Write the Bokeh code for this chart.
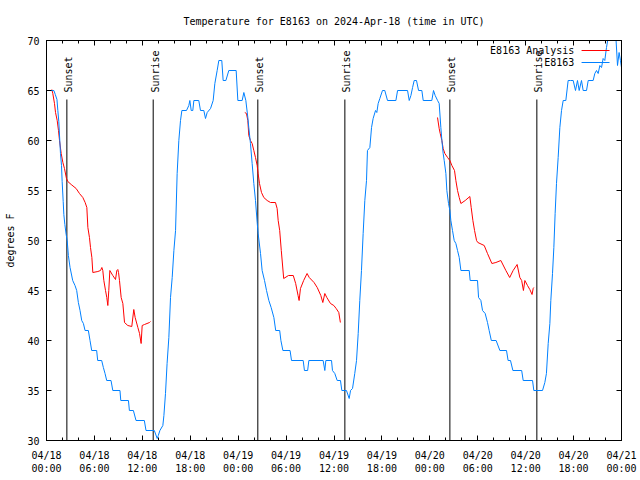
import numpy as np
from bokeh.plotting import figure
from bokeh.models import FixedTicker, Label, Arrow, Range1d, LinearAxis, CustomLabelingPolicy
from bokeh.core.properties import value
from bokeh.embed import file_html
from bokeh.resources import INLINE

FONT = "DejaVu Sans Mono"

# hours since 2024-04-18 00:00 UTC
obs_hours = [0, 0.92, 1.1, 1.31, 1.42, 1.54, 1.67, 1.75, 1.88, 1.96, 2.09, 2.17, 2.3, 2.46, 2.59, 2.74, 2.95,
             3.28, 3.57, 3.78, 3.99, 4.2, 4.41, 4.62, 4.83, 5.24, 5.45, 5.66, 6.28, 6.41, 6.91, 7.12, 7.33,
             7.54, 8.08, 8.3, 9.2, 9.3, 10.26, 10.38, 10.88, 11.21, 12.25, 12.46, 13.5, 13.86, 14.0, 14.2,
             14.57, 14.7, 14.9, 15.1, 15.32, 15.53, 15.74, 15.95, 16.16, 16.36, 16.57, 16.78, 16.95, 17.53,
             17.82, 17.95, 18.12, 18.32, 18.45, 19.07, 19.28, 19.7, 19.91, 20.12, 20.54, 20.87, 21.08, 21.37,
             21.58, 21.95, 22.12, 22.46, 22.83, 23.75, 23.96, 24.5, 24.71, 24.96, 25.21, 25.33, 25.54, 25.75,
             25.96, 26.17, 26.38, 26.5, 26.8, 27.0, 27.3, 27.55, 27.84, 28.13, 28.47, 28.7, 29.2, 29.35,
             29.6, 30.5, 30.68, 32.14, 32.3, 32.7, 32.85, 34.64, 34.85, 34.98, 35.69, 35.81, 36.1, 36.4,
             36.81, 36.98, 37.56, 37.9, 38.07, 38.32, 38.6, 38.82, 39.03, 39.23, 39.44, 39.65, 39.86, 40.07,
             40.19, 40.49, 40.7, 40.9, 41.2, 41.36, 41.53, 41.74, 42.07, 42.36, 42.7, 43.75, 43.96, 45.21,
             45.42, 45.63, 45.84, 46.04, 46.33, 46.59, 47.0, 47.17, 48.25, 48.46, 48.67, 48.97, 49.17, 49.38,
             49.51, 49.67, 49.8, 50.01, 50.13, 50.34, 50.51, 50.63, 50.84, 51.05, 51.26, 51.47, 51.68, 51.89,
             52.93, 53.05, 53.97, 54.1, 54.39, 54.6, 54.93, 55.22, 55.43, 55.7, 56.3, 56.77, 57.6, 57.8, 58.1,
             58.4, 59.5, 59.69, 60.86, 61.02, 62.11, 62.4, 62.6, 62.82, 63.03, 63.15, 63.36, 63.53, 63.69,
             63.86, 64.07, 64.28, 64.49, 64.7, 65.03, 65.32, 65.61, 65.95, 66.24, 66.49, 66.7, 66.99, 67.2,
             67.62, 67.83, 68.45, 68.66, 68.87, 69.08, 69.29, 69.5, 69.7, 69.91, 70.12, 70.33, 70.6, 71.0,
             71.3, 71.5, 71.7, 71.87, 72.0]
obs_temp = [65, 65, 64.6, 64.1, 63, 61.9, 59.9, 58.7, 57.5, 55.9, 53.9, 52.6, 51.6, 50.6, 50, 48.5, 47.3,
            46, 45.5, 45, 43.8, 43, 42, 41.7, 41, 41, 40, 39, 39, 38, 38, 37.3, 36.7,
            36, 36, 35, 35, 34, 34, 33, 33, 32, 32, 31, 31, 30.2, 30.5, 31,
            31.5, 32.5, 34.7, 37.7, 40.3, 44.3, 46.3, 49, 51, 56.7, 60, 62, 63, 63,
            63.5, 64, 63, 63, 64, 64, 63, 63, 62.2, 62.8, 63.2, 64, 65.7, 67,
            68, 68, 66, 66, 67, 67, 64, 64, 64.8, 64, 62.3, 61.3, 59.7, 57.7,
            55.7, 54, 51.8, 50.7, 48.7, 47, 46, 45, 44, 43.3, 42.3, 41, 41, 40,
            39, 39, 38, 38, 37, 37, 38, 38, 37, 38, 38, 37, 36.7, 36,
            36, 35, 35, 34.2, 35, 35.2, 36.7, 38, 40.7, 44, 47, 50.7, 54, 56,
            59, 59.3, 61.3, 62.2, 63, 62.8, 63.7, 64.2, 65, 65, 64, 64, 65, 65,
            64, 64.5, 65.3, 66, 66, 65, 65, 64, 64, 65, 64.5, 64, 63.7, 61.3,
            60, 58.7, 58, 56.7, 55, 53.7, 53, 52, 51, 50, 49.7, 49, 48.3, 47,
            47, 46, 46, 44.3, 44, 43, 42.7, 41.8, 41, 40, 40, 39, 39, 38, 38,
            37, 37, 36, 36, 35, 35, 35.8, 36.7, 39.7, 41.7, 44, 46.7, 49.3, 52.7,
            55.7, 58.3, 61.3, 63, 64, 64, 66, 66, 66, 65, 66, 65, 66, 65,
            65, 66, 66, 66.7, 67, 66.7, 67.5, 67.3, 68.2, 68, 69.3, 70.3, 71, 70.5,
            70.3, 67.5, 68.8, 68, 67.3]

ana1_hours = [0.67, 0.79, 1.0, 1.13, 1.34, 1.5, 1.63, 1.84, 2.05, 2.25, 2.5, 2.67, 3.09, 3.71, 4.13, 4.55,
              4.84, 5.05, 5.18, 5.38, 5.51, 5.68, 5.8, 6.43, 6.76, 6.93, 7.05, 7.18, 7.39, 7.55, 7.68,
              7.8, 7.93, 8.3, 8.64, 8.81, 8.93, 9.02, 9.14, 9.35, 9.56, 9.77, 10.18, 10.68, 10.93, 11.1,
              11.44, 11.65, 11.85, 11.98, 12.27, 12.9, 13.02]
ana1_temp = [65.1, 64.7, 63.7, 62.8, 62, 61, 60, 58.7, 57.8, 57.2, 56.2, 55.9, 55.6, 55.2, 54.7, 54.3,
             53.8, 53.3, 51.3, 50.3, 49.3, 48.3, 46.8, 46.9, 47, 47.3, 47, 46, 45, 44.3, 43.5,
             45, 47, 46.5, 46.1, 47, 47.1, 46.8, 46, 44.3, 43.7, 41.8, 41.5, 41.4, 43.1, 42.3,
             41.3, 40.7, 39.7, 41.5, 41.6, 41.8, 41.9]

ana2_hours = [24.83, 25.04, 25.21, 25.33, 25.54, 25.75, 25.96, 26.17, 26.38, 26.5, 26.67, 26.92, 27.21,
              27.63, 28.05, 28.67, 28.88, 29.01, 29.2, 29.4, 29.7, 30.3, 30.9, 31.2, 31.5, 31.63, 31.8,
              32.2, 32.63, 32.9, 33.5, 33.9, 34.35, 34.6, 34.85, 35.1, 35.56, 35.98, 36.27, 36.6, 36.8]
ana2_temp = [62.8, 62.7, 62, 60.5, 60, 59.7, 59, 58.3, 57.5, 56.7, 55.7, 54.8, 54.3,
             54, 53.8, 53.8, 53.2, 52, 51, 49, 46.2, 46.5, 46.5, 45.7, 44.5, 44, 45.2,
             46, 46.7, 46.3, 45.8, 45.3, 44.5, 43.8, 44.7, 44.3, 43.7, 43.5, 43.2, 42.8, 41.8]

ana3_hours = [48.96, 49.17, 49.3, 49.51, 49.67, 49.88, 50.22, 50.51, 50.76, 51.09, 51.26, 51.47, 51.68,
              51.89, 52.43, 53.01, 53.18, 53.39, 53.6, 53.85, 54.01, 54.81, 55.22, 55.77, 56.27, 56.89,
              57.52, 58.0, 58.43, 58.93, 59.27, 59.5, 59.72, 59.9, 60.23, 60.52, 60.8, 60.94, 61.02]
ana3_temp = [62.3, 61.2, 60.7, 60, 59.2, 58.7, 58.3, 58, 57.5, 57, 56, 55, 54.3,
             53.7, 54, 54.4, 53.3, 52, 51, 50, 49.8, 49.5, 48.7, 47.7, 47.8, 48,
             47, 46.3, 47, 47.6, 46.3, 46, 45, 46, 45.5, 45.1, 44.6, 45.2, 45.3]

event_hours = [2.55, 13.36, 26.46, 37.36, 50.51, 61.4]
event_names = ["Sunset", "Sunrise", "Sunset", "Sunrise", "Sunset", "Sunrise"]

x_ticks = [0, 6, 12, 18, 24, 30, 36, 42, 48, 54, 60, 66, 72]
x_minor = list(range(0, 73, 2))
x_tick_labels = ["04/18\n00:00", "04/18\n06:00", "04/18\n12:00", "04/18\n18:00",
                 "04/19\n00:00", "04/19\n06:00", "04/19\n12:00", "04/19\n18:00",
                 "04/20\n00:00", "04/20\n06:00", "04/20\n12:00", "04/20\n18:00", "04/21\n00:00"]
y_ticks = [30, 35, 40, 45, 50, 55, 60, 65, 70]

RED = "#ff0000"
BLUE = "#0080ff"

p = figure(width=640, height=480, output_backend="svg", toolbar_location=None,
           x_range=Range1d(0, 72), y_range=Range1d(30, 70),
           min_border_left=46, min_border_right=19, min_border_top=40, min_border_bottom=40,
           title="Temperature for E8163 on 2024-Apr-18 (time in UTC)")
p.title.align = "center"
p.title.text_font = FONT
p.title.text_font_size = "10px"
p.title.text_font_style = "normal"
p.title.text_color = "black"
p.title.standoff = 20

p.xgrid.visible = False
p.ygrid.visible = False
p.outline_line_color = "black"
p.outline_line_width = 1

no_labels = CustomLabelingPolicy(code="""
const all = [...indices]
for (const i of all) indices.unset(i)
return indices
""")

def style_axis(ax, labels=True):
    ax.major_tick_in = 5
    ax.major_tick_out = 0
    ax.minor_tick_in = 3
    ax.minor_tick_out = 0
    ax.axis_line_color = "black"
    ax.major_tick_line_color = "black"
    ax.minor_tick_line_color = "black"
    ax.major_label_text_font = FONT
    ax.major_label_text_color = "black"
    if labels:
        ax.major_label_text_font_size = "10px"
    else:
        ax.major_label_text_font_size = "1px"
        ax.major_label_standoff = 0
        ax.major_label_policy = no_labels

xa = p.xaxis[0]
xa.ticker = FixedTicker(ticks=x_ticks, minor_ticks=x_minor)
xa.major_label_overrides = {t: l for t, l in zip(x_ticks, x_tick_labels)}
style_axis(xa)
xa.major_label_standoff = 9

ya = p.yaxis[0]
ya.ticker = FixedTicker(ticks=y_ticks, minor_ticks=[])
style_axis(ya)
ya.major_label_standoff = 7
ya.axis_label = "degrees F"
ya.axis_label_text_font = FONT
ya.axis_label_text_font_size = "10px"
ya.axis_label_text_font_style = "normal"
ya.axis_label_text_color = "black"
ya.axis_label_standoff = 8

top = LinearAxis(ticker=FixedTicker(ticks=x_ticks, minor_ticks=x_minor))
style_axis(top, labels=False)
p.add_layout(top, "above")
right = LinearAxis(ticker=FixedTicker(ticks=y_ticks, minor_ticks=[]))
style_axis(right, labels=False)
p.add_layout(right, "right")

# sunrise / sunset markers
p.segment(x0=event_hours, y0=[30] * len(event_hours), x1=event_hours, y1=[64.1] * len(event_hours),
          line_color="black", line_width=1)
p.text(x=event_hours, y=[64.8] * len(event_hours), text=event_names, angle=np.pi / 2,
       text_align="left", text_baseline="middle", x_offset=2,
       text_font=value(FONT), text_font_size="10px", text_color="black")

# data
p.line(ana1_hours, ana1_temp, line_color=RED, line_width=1)
p.line(ana2_hours, ana2_temp, line_color=RED, line_width=1)
p.line(ana3_hours, ana3_temp, line_color=RED, line_width=1)
p.line(obs_hours, obs_temp, line_color=BLUE, line_width=1)

# legend (gnuplot style: text then sample line)
leg_entries = [("E8163 Analysis", RED, 69.0), ("E8163", BLUE, 67.8)]
for name, col, yv in leg_entries:
    p.add_layout(Label(x=66.1, y=yv, text=name, text_align="right", text_baseline="middle",
                       text_font=FONT, text_font_size="10px", text_color="black"))
    p.add_layout(Arrow(x_start=67.0, y_start=yv, x_end=70.5, y_end=yv, end=None,
                       line_color=col, line_width=1))

open("out.html", "w").write(file_html(p, INLINE))
